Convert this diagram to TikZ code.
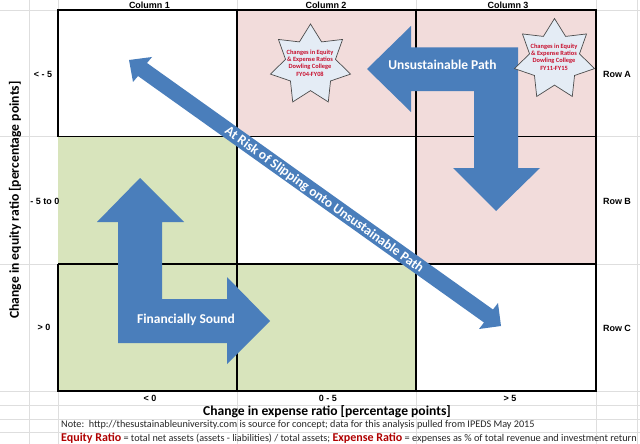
\documentclass[tikz,border=0pt]{standalone}
\usepackage{fontspec}
\setmainfont{Carlito}
\newfontfamily\arialf{Liberation Sans}
\usetikzlibrary{shapes.geometric}
\definecolor{cellpink}{HTML}{F2DCDB}
\definecolor{cellgreen}{HTML}{D8E4BC}
\definecolor{arrowblue}{HTML}{4A7EBB}
\definecolor{starfill}{HTML}{E4ECF5}
\definecolor{starred}{HTML}{C8102E}
\definecolor{gridgrey}{HTML}{DEDEDE}
\definecolor{darkred}{HTML}{B00000}
\tikzset{
  x=1pt,y=-1pt,
  sheetline/.style={gridgrey,line width=0.7pt},
  cellline/.style={black,line width=1.1pt},
  bluearrow/.style={fill=arrowblue,draw=none},
  starbox/.style={star,star points=7,star point ratio=1.6,minimum size=82pt,inner sep=0pt,fill=starfill,draw=black!70,line width=0.7pt},
  startext/.style={text=starred,font=\bfseries\fontsize{6.4}{7.4}\selectfont,align=center,inner sep=0pt},
  sheetlabel/.style={font=\arialf\bfseries\fontsize{9}{10}\selectfont,inner sep=0pt},
  axislabel/.style={font=\bfseries\fontsize{13.6}{15}\selectfont,inner sep=0pt},
  arrowtext/.style={text=white,font=\bfseries\fontsize{13.5}{15}\selectfont,inner sep=0pt},
  notetext/.style={font=\fontsize{10.2}{11}\selectfont,inner sep=0pt,anchor=west,text=black!85}
}
\begin{document}
\begin{tikzpicture}
\useasboundingbox (0,0) rectangle (640,444);
\fill[white] (0,0) rectangle (640,444);
% spreadsheet grid
\foreach \gx in {29,58,237,416,596,637} \draw[sheetline] (\gx,0) -- (\gx,444);
\foreach \gy in {10,136.5,264,391,405,419,432} \draw[sheetline] (0,\gy) -- (640,\gy);
% cell fills
\fill[white] (58,10) rectangle (596,391);
\fill[cellpink] (237,10) rectangle (596,136.5);
\fill[cellpink] (416,136.5) rectangle (596,264);
\fill[cellgreen] (58,136.5) rectangle (237,264);
\fill[cellgreen] (58,264) rectangle (416,391);
% cell borders
\draw[cellline] (58,136.5) -- (58,10) -- (596,10) -- (596,391) -- (58,391) -- (58,264);
\draw[cellline] (58,136.5) -- (596,136.5);
\draw[cellline] (58,264) -- (596,264);
\draw[cellline] (237,10) -- (237,391);
\draw[cellline] (416,10) -- (416,391);
% block arrows
\fill[bluearrow] (367,69) -- (411,26) -- (411,47.5) -- (518,47.5) -- (518,168) -- (540,168) -- (496,211) -- (453,168) -- (474,168) -- (474,91) -- (411,91) -- (411,112) -- cycle;
\fill[bluearrow] (140,178) -- (184,222) -- (162,222) -- (162,299) -- (227,299) -- (227,277) -- (270,321) -- (227,364) -- (227,343) -- (118,343) -- (118,222) -- (97,222) -- cycle;
\fill[bluearrow] (129,60) -- (152,57) -- (147,63) -- (493,309.5) -- (498,303) -- (501,326) -- (479,329) -- (484,322.5) -- (138,76) -- (133,82) -- cycle;
% arrow texts
\node[arrowtext] (unsust) at (442.5,64.5) {Unsustainable Path};
\node[arrowtext] (sound) at (186,320) {Financially Sound};
\node[arrowtext,rotate=-35.6] (risk) at (324,200) {At Risk of Slipping onto Unsustainable Path};
% stars
\node[starbox] (star1) at (310.5,65) {};
\node[startext] (star1text) at (310,63) {Changes in Equity\\\& Expense Ratios\\Dowling College\\FY04-FY08};
\node[starbox] (star2) at (554.5,59.5) {};
\node[startext] (star2text) at (554,57) {Changes in Equity\\\& Expense Ratios\\Dowling College\\FY11-FY15};
% labels
\node[sheetlabel] (c1) at (149.5,5) {Column 1};
\node[sheetlabel] (c2) at (326,5) {Column 2};
\node[sheetlabel] (c3) at (508,5) {Column 3};
\node[sheetlabel] (ra) at (617,74) {Row A};
\node[sheetlabel] (rb) at (617,201) {Row B};
\node[sheetlabel] (rc) at (617,328) {Row C};
\node[sheetlabel] (y1) at (43,74) {< - 5};
\node[sheetlabel] (y2) at (45,201) {- 5 to 0};
\node[sheetlabel] (y3) at (44,327) {> 0};
\node[sheetlabel] (x1) at (150,398) {< 0};
\node[sheetlabel] (x2) at (328,398) {0 - 5};
\node[sheetlabel] (x3) at (510,398) {> 5};
\node[axislabel] (xlab) at (327,412) {Change in expense ratio [percentage points]};
\node[axislabel,rotate=90] (ylab) at (15,200) {Change in equity ratio [percentage points]};
\node[notetext] (note) at (61,424.5) {Note:\ \ http://thesustainableuniversity.com is source for concept; data for this analysis pulled from IPEDS May 2015};
\node[notetext] (defs) at (61,438.5) {\textcolor{darkred}{\bfseries\fontsize{12}{12}\selectfont Equity Ratio} = total net assets (assets - liabilities) / total assets; \textcolor{darkred}{\bfseries\fontsize{12}{12}\selectfont Expense Ratio} {\fontsize{10.3}{12}\selectfont = expenses as \% of total revenue and investment return}};
\end{tikzpicture}
\end{document}
